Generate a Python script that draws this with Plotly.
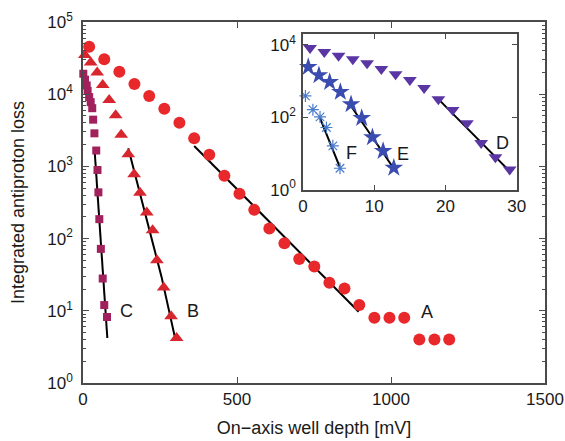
import math
import plotly.graph_objects as go

# ---------------- data ----------------
# Main panel: on-axis well depth [mV] vs integrated antiproton loss
A_x = [20, 69, 118, 167, 215, 264, 313, 361, 410, 459, 508, 556, 605, 654, 702,
       751, 800, 849, 897, 946, 995, 1043, 1092, 1141, 1189]
A_y = [45500, 30400, 20400, 13800, 9440, 6300, 4030, 2450, 1450, 740, 417, 250,
       138, 86, 52, 41, 24.5, 20.4, 12, 8, 8, 8, 4, 4, 4]

B_x = [6, 25, 46, 64, 85, 106, 124, 147, 166, 185, 207, 226, 240, 262, 286, 304]
B_y = [35000, 27400, 19900, 13400, 8300, 5100, 2750, 1470, 780, 433, 229, 131,
       50, 21, 8.4, 4.2]

C_x = [1, 6.5, 12, 15, 20, 25, 30, 33, 37, 43, 47, 50, 53, 58, 64, 69, 78]
C_y = [19200, 15900, 13200, 11100, 9120, 7760, 6400, 4440, 2870, 1660, 891,
       437, 186, 72, 28, 12, 8.2]

# exponential fits (straight on the log axis)
A_fit_x = [361, 895]
A_fit_y = [1920, 9.7]
B_fit_x = [147, 220, 255, 300]
B_fit_y = [1780, 117, 29.5, 4.0]
C_fit_x = [38, 79]
C_fit_y = [1600, 4.2]

# Inset panel
D_x = [1, 3, 5, 7, 9, 11, 13, 15, 17, 19, 21, 23, 25, 27, 29]
D_y = [8130, 6310, 5010, 3980, 3090, 2140, 1550, 1070, 646, 316, 158, 68,
       19.5, 7.8, 3.6]
E_x = [0.75, 2.25, 3.75, 5.25, 6.75, 8.25, 9.75, 11.25, 12.75]
E_y = [2450, 1450, 933, 500, 229, 95, 28, 11.7, 4.0]
F_x = [0.35, 1.4, 2.4, 3.3, 4.2, 5.2]
F_y = [389, 162, 102, 52, 16.2, 3.9]

D_fit_x = [19, 29]
D_fit_y = [316, 3.2]
E_fit_x = [6.5, 12.6]
E_fit_y = [240, 4.2]
F_fit_x = [2.4, 5.15]
F_fit_y = [95, 4.3]

main_xticks = [0, 500, 1000, 1500]
main_yticks = [1, 10, 100, 1000, 10000, 100000]
main_ytext = ["10<sup>0</sup>", "10<sup>1</sup>", "10<sup>2</sup>",
              "10<sup>3</sup>", "10<sup>4</sup>", "10<sup>5</sup>"]
inset_xticks = [0, 10, 20, 30]
inset_yticks = [1, 100, 10000]
inset_ytext = ["10<sup>0</sup>", "10<sup>2</sup>", "10<sup>4</sup>"]

labels_main = [("A", 1116, 9.7), ("B", 358, 10), ("C", 140, 10)]
labels_inset = [("D", 28.0, 19), ("E", 14.0, 9.5), ("F", 6.8, 10)]

# ---------------- styling ----------------
FONT = "Liberation Sans, Arial, Helvetica, sans-serif"
AXC = "#4a4a4a"
TXT = "#1a1a1a"
RED_A = "#e8282b"
RED_B = "#d8262e"
MAROON = "#a1215c"
PURPLE = "#5a36a4"
BLUE_E = "#3a4cb0"
BLUE_F = "#4a7ccc"

minor_vals = [m * 10 ** d for d in range(0, 5) for m in range(2, 10)]

fig = go.Figure()

def fit(x, y, xa="x", ya="y"):
    fig.add_trace(go.Scatter(x=x, y=y, mode="lines", xaxis=xa, yaxis=ya,
                             line=dict(color="black", width=2),
                             showlegend=False, hoverinfo="skip"))

def pts(x, y, sym, color, size, xa="x", ya="y", lw=0):
    fig.add_trace(go.Scatter(x=x, y=y, mode="markers", xaxis=xa, yaxis=ya,
                             cliponaxis=False, showlegend=False,
                             marker=dict(symbol=sym, color=color, size=size,
                                         line=dict(width=lw, color=color))))

fit(A_fit_x, A_fit_y)
fit(B_fit_x, B_fit_y)
fit(C_fit_x, C_fit_y)
pts(A_x, A_y, "circle", RED_A, 12)
pts(B_x, B_y, "triangle-up", RED_B, 12)
pts(C_x, C_y, "square", MAROON, 8)

fit(D_fit_x, D_fit_y, "x2", "y2")
fit(E_fit_x, E_fit_y, "x2", "y2")
fit(F_fit_x, F_fit_y, "x2", "y2")
pts(D_x, D_y, "triangle-down", PURPLE, 12, "x2", "y2")
pts(E_x, E_y, "star", BLUE_E, 14, "x2", "y2")
pts(F_x, F_y, "asterisk-open", BLUE_F, 10, "x2", "y2", lw=1.2)

annotations = []
for t, x, y in labels_main:
    annotations.append(dict(text=t, x=x, y=math.log10(y), xref="x", yref="y",
                            showarrow=False, font=dict(size=18, color=TXT, family=FONT)))
for t, x, y in labels_inset:
    annotations.append(dict(text=t, x=x, y=math.log10(y), xref="x2", yref="y2",
                            showarrow=False, font=dict(size=18, color=TXT, family=FONT)))

common = dict(showline=True, linecolor=AXC, linewidth=1.5, mirror="ticks",
              ticks="inside", tickcolor=AXC, tickwidth=1.2, showgrid=False,
              zeroline=False, automargin=False,
              tickfont=dict(size=17, color=TXT, family=FONT))

fig.update_layout(
    width=565, height=441,
    margin=dict(l=83, r=20, t=22, b=58),
    paper_bgcolor="white", plot_bgcolor="white",
    font=dict(family=FONT, color=TXT),
    showlegend=False,
    annotations=annotations,
    xaxis=dict(domain=[0, 1], range=[0, 1500], tickvals=main_xticks,
               ticklen=6, anchor="y",
               title=dict(text="On\u2212axis well depth [mV]",
                          font=dict(size=18, color=TXT, family=FONT), standoff=13),
               **common),
    yaxis=dict(domain=[0, 1], type="log", range=[0, 5], tickvals=main_yticks,
               ticktext=main_ytext, ticklen=6, anchor="x", ticklabelstandoff=5,
               minor=dict(tickvals=minor_vals, ticks="inside", ticklen=3,
                          tickcolor=AXC, tickwidth=1, showgrid=False),
               title=dict(text="Integrated antiproton loss",
                          font=dict(size=18, color=TXT, family=FONT), standoff=18),
               **common),
    xaxis2=dict(domain=[0.476, 0.939], range=[0, 30], tickvals=inset_xticks,
                ticklen=5, anchor="y2", **common),
    yaxis2=dict(domain=[0.5357, 0.9668], type="log", range=[0, 4.3],
                tickvals=inset_yticks, ticktext=inset_ytext, ticklen=5,
                anchor="x2", ticklabelstandoff=2, **common),
)

# remove the default 8 px body margin so the figure fills the window exactly
fig.write_html(
    "out.html",
    config={"displayModeBar": False},
    post_script="document.body.style.margin='0px';"
                "document.body.style.overflow='hidden';",
)
